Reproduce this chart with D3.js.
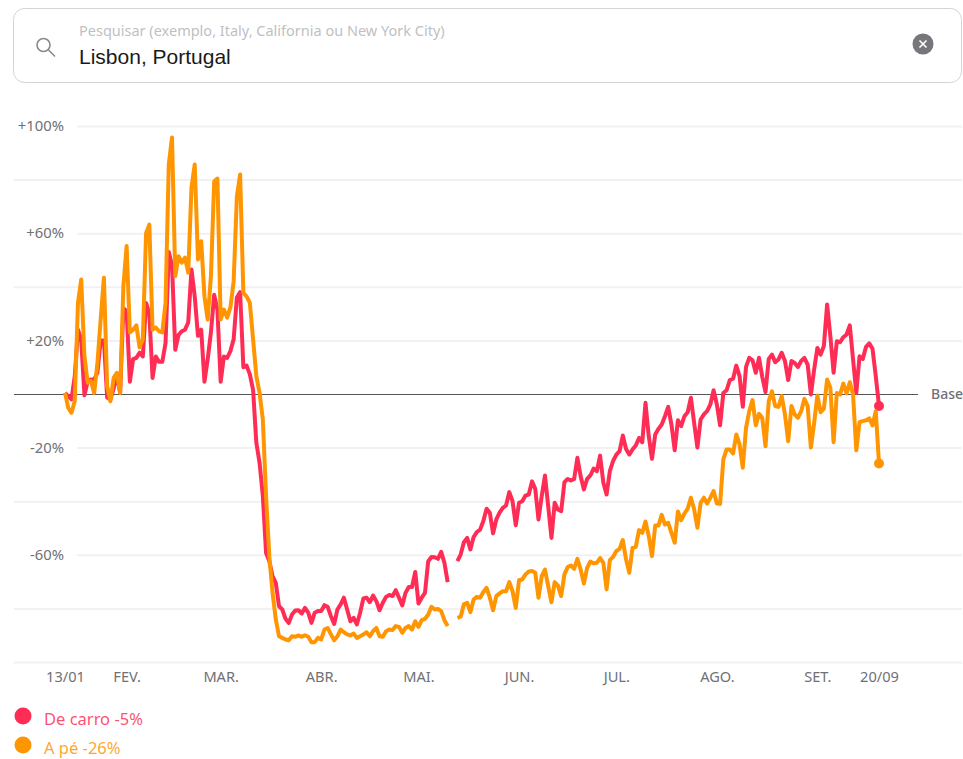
<!DOCTYPE html>
<html>
<head>
<meta charset="utf-8">
<script src="https://cdn.jsdelivr.net/npm/d3@7"></script>
<style>
  html, body { margin: 0; padding: 0; background: #fff; }
  svg { display: block; }
  text { font-family: "Noto Sans", "Open Sans", sans-serif; }
</style>
</head>
<body>
<svg width="963" height="759"></svg>
<script>
const searchHint = 'Pesquisar (exemplo, Italy, California ou New York City)';
const searchValue = 'Lisbon, Portugal';

const firstDay = new Date(2020, 0, 13);
const lastDay = new Date(2020, 8, 20);

const yTicks = [100, 80, 60, 40, 20, -20, -40, -60, -80, -100];
const yLabelled = [100, 60, 20, -20, -60];
const monthTicks = [
    ['13/01', new Date(2020, 0, 13)],
    ['FEV.', new Date(2020, 1, 1)],
    ['MAR.', new Date(2020, 2, 1)],
    ['ABR.', new Date(2020, 3, 1)],
    ['MAI.', new Date(2020, 4, 1)],
    ['JUN.', new Date(2020, 5, 1)],
    ['JUL.', new Date(2020, 6, 1)],
    ['AGO.', new Date(2020, 7, 1)],
    ['SET.', new Date(2020, 8, 1)],
    ['20/09', new Date(2020, 8, 20)]
];

// daily values, one line per month, 11 and 12 May are missing
const drivingValues = [
    0.4, -0.8, -2, 6.5, 24, 20, -0.5, 4.8, 5.4, 5.4, 8, 20, 20, -1.3, -2, 2, 7, 0.5, 32,
    31, 4.6, 13, 13.5, 15.4, 14, 34, 30, 6, 14, 12, 12, 19, 53, 48, 16.5, 22, 23.4, 24, 26.7, 46.5, 36.5, 21.7, 24, 4.6, 13, 23, 37, 31.5,
    4.6, 14, 13.5, 16, 20.4, 36, 38, 10, 10.6, 7.3, 1.5, -18.2, -25.7, -38, -59.3, -62.4, -68, -70.5, -79.2, -80.4, -83.9, -85.4, -82.3, -80.8, -80.7, -81.9, -79.8, -81.6, -85.4, -81.6, -81,
    -81, -78.8, -79.4, -82.9, -85.8, -80.4, -78.5, -76, -80.4, -84.8, -83.5, -86, -81.6, -76.3, -76, -77.7, -75.2, -77.3, -80.7, -77.9, -75.7, -75, -75.4, -73.2, -76, -78.9, -74.2, -72, -72, -66.4,
    -78.2, -76, -74.2, -62.4, -60.8, -60.9, -61.5, -58.9, -63, -70.2, null, null, -62.4, -59.9, -55.3, -53.7, -58, -53.4, -51.5, -50.6, -47.4, -42.8, -44.3, -52, -46.8, -44.3, -42.5, -41.6, -36.6, -40, -49,
    -40.6, -40, -37.9, -37.5, -32.6, -35.4, -46.8, -38.1, -30.4, -41.9, -53.7, -40.6, -43.1, -43.7, -32.9, -31.7, -32.3, -31.7, -23.8, -30.7, -35.6, -31.7, -30.4, -27.8, -28.8, -23, -33.1, -37.5, -28.8, -25,
    -22.6, -21.3, -15.5, -20.5, -22.6, -20.7, -19.2, -16.4, -18, -3.3, -15.7, -24.2, -15.1, -13, -11.4, -8.3, -4.8, -11.4, -21, -9.8, -12, -8.3, -6.8, -1.4, -10.8, -20, -9.5, -7.6, -6.4, -3.9, 1.4,
    -3.9, -11.7, 0.4, 1.4, 5.2, 5.7, 10.6, 6.7, -4.8, 10.1, 13.5, 12.6, 7.9, 13.5, 6.4, 0.7, 13.1, 14.7, 11.9, 12.9, 15.4, 12.3, 5.2, 12.3, 11.6, 10.1, 12.3, 13.5, 11, -0.2, 9.1,
    17.2, 14.7, 17.9, 33.4, 21.6, 7.9, 19.7, 19.3, 21.2, 22.2, 25.6, 12.9, 0.4, 14.1, 13.1, 17.6, 18.9, 16.9, 6.7, -4.5
];

const walkingValues = [
    0.4, -5.2, -7, -2.7, 34, 42.7, 14.1, 4.2, 4.8, 0.4, 11.6, 27.8, 43.4, 2.9, -2.7, 6, 7.9, 0.4, 40.2,
    55.2, 23, 24, 25.6, 17.4, 20.4, 60, 63.2, 24, 24.8, 23.4, 23, 34, 85.6, 95.7, 44, 51.4, 49, 50.9, 45.3, 77, 85.6, 50.2, 57, 36.4, 27.8, 44, 79.3, 80.4,
    27.8, 31.5, 28.5, 32.3, 42, 73.7, 81.9, 37.8, 36.4, 34, 20.4, 6.7, 0.4, -9.5, -38, -60.5, -74.2, -84.1, -90.4, -91, -91.6, -91.9, -90.4, -90.6, -90.1, -90.6, -90, -90.6, -92.6, -92.6, -91,
    -91.6, -87.9, -87.3, -89.7, -91.9, -90.4, -87.9, -88.9, -89.7, -90.1, -89.4, -91, -90.4, -89.7, -88.9, -90.4, -88.5, -87.3, -90.4, -90.6, -88.5, -87.9, -88.1, -86.6, -86.9, -89.1, -87.3, -86.6, -87.9, -84.8,
    -86.9, -84.4, -83.9, -82.3, -79.4, -80.4, -80.2, -81, -84.4, -86.6, null, null, -83.5, -83.1, -78.5, -77.9, -81.4, -76.7, -75.7, -76, -73.9, -72.3, -76, -80.7, -75.4, -74.4, -73.6, -73.6, -70.2, -73.6, -79.8,
    -69.5, -69.2, -67.3, -66.2, -66, -66.7, -76, -68, -65.5, -71.7, -77.7, -70.2, -71.5, -75.4, -67.3, -64.6, -64, -65.2, -61.5, -65.5, -70.7, -64.9, -62.5, -63.2, -63, -61.2, -63, -72.9, -62, -60.8,
    -58.6, -57.8, -54.5, -61.7, -66.7, -57.4, -57, -50.8, -51.8, -47.6, -53, -60.5, -49.1, -49.1, -45.1, -48.7, -48.1, -51.8, -55.5, -43.8, -47.1, -44.6, -42.8, -38.7, -43, -49.9, -40.6, -38.7, -40.9, -38.7, -36.2,
    -40.9, -41, -24.4, -20.7, -20.7, -22.2, -15.1, -18.8, -27.5, -12.6, -6.4, -2.3, -11.7, -7.4, -8.9, -19.5, -2.7, 1, -4.5, -4.8, -0.8, -7.6, -17.6, -4.5, -7.6, -8.9, -6.4, -1.8, -4.5, -20, -10.8,
    -0.6, -6.8, -5.5, 5.4, 2.3, -18, 0.4, -0.2, 3.9, 0.2, 4.4, -0.2, -21, -10.5, -10.1, -9.8, -9.1, -11.7, -6.4, -25.9
];

const seriesNames = ['De carro -5%', 'A pé -26%'];
const seriesColors = ['#ff2d55', '#ff9500'];

const days = d3.timeDay.range(firstDay, d3.timeDay.offset(lastDay, 1));
if (days.length !== drivingValues.length || days.length !== walkingValues.length) {
    console.error('data length mismatch', days.length, drivingValues.length, walkingValues.length);
}

const svg = d3.select('svg');

// search box
const search = svg.append('g');
search.append('rect')
    .attr('x', 13.5).attr('y', 8.5)
    .attr('width', 948).attr('height', 74)
    .attr('rx', 11)
    .attr('fill', '#fff')
    .attr('stroke', '#d4d4d4');
search.append('circle')
    .attr('cx', 43.5).attr('cy', 45).attr('r', 6.5)
    .attr('fill', 'none').attr('stroke', '#8a8a8a').attr('stroke-width', 1.6);
search.append('line')
    .attr('x1', 48.5).attr('y1', 50).attr('x2', 55).attr('y2', 56.5)
    .attr('stroke', '#8a8a8a').attr('stroke-width', 1.6);
search.append('text')
    .attr('x', 79).attr('y', 36)
    .attr('font-size', 14.5).attr('fill', '#bfbfc3')
    .text(searchHint);
search.append('text')
    .attr('x', 79).attr('y', 64)
    .attr('font-size', 21).attr('fill', '#1a1a1a')
    .style('font-family', '"Liberation Sans", sans-serif')
    .text(searchValue);
search.append('circle')
    .attr('cx', 923).attr('cy', 44).attr('r', 10.5)
    .attr('fill', '#77777b');
search.append('path')
    .attr('d', 'M919.5,40.5L926.5,47.5M926.5,40.5L919.5,47.5')
    .attr('stroke', '#fff').attr('stroke-width', 1.6);

const x = d3.scaleTime()
    .domain([firstDay, lastDay])
    .range([65, 879]);

const y = d3.scaleLinear()
    .domain([-100, 100])
    .range([662, 126]);

// grid and y labels
const yAxis = svg.append('g')
    .attr('transform', 'translate(77,0)')
    .call(d3.axisRight(y)
        .tickValues(yTicks)
        .tickSize(885)
        .tickFormat(d => yLabelled.includes(d) ? (d > 0 ? '+' : '') + d + '%' : ''));
yAxis.select('.domain').remove();
yAxis.selectAll('.tick line')
    .attr('x1', d => yLabelled.includes(d) ? 0 : -63)
    .attr('stroke', '#f1f1f2')
    .attr('stroke-width', 2);
yAxis.selectAll('.tick text')
    .attr('x', -13)
    .attr('dy', '0.32em')
    .attr('text-anchor', 'end')
    .attr('font-size', 14.8)
    .attr('fill', '#707075');

// x labels
const xAxis = svg.append('g')
    .attr('transform', 'translate(0,662)')
    .call(d3.axisBottom(x)
        .tickValues(monthTicks.map(d => d[1]))
        .tickSize(0)
        .tickFormat((d, i) => monthTicks[i][0]));
xAxis.select('.domain').remove();
xAxis.selectAll('.tick text')
    .attr('y', 15)
    .attr('dy', '0.32em')
    .attr('font-size', 14.6)
    .attr('fill', '#707075');

// baseline
svg.append('line')
    .attr('x1', 14).attr('x2', 918)
    .attr('y1', y(0) + 0.5).attr('y2', y(0) + 0.5)
    .attr('stroke', '#55555a')
    .attr('stroke-width', 1);
svg.append('text')
    .attr('x', 931).attr('y', y(0) + 1)
    .attr('dy', '0.32em')
    .attr('font-size', 14).attr('font-weight', 500)
    .attr('fill', '#707075')
    .text('Base');

const line = d3.line()
    .defined(d => d !== null)
    .x((d, i) => x(days[i]))
    .y(d => y(d));

[drivingValues, walkingValues].forEach((values, s) => {
    svg.append('path')
        .datum(values)
        .attr('fill', 'none')
        .attr('stroke', seriesColors[s])
        .attr('stroke-width', 4)
        .attr('stroke-linejoin', 'round')
        .attr('d', line);
    svg.append('circle')
        .attr('cx', x(lastDay))
        .attr('cy', y(values[values.length - 1]))
        .attr('r', 5)
        .attr('fill', seriesColors[s]);
});

// legend, the last row sits right at the bottom edge
seriesNames.forEach((name, i) => {
    const item = svg.append('g')
        .attr('transform', `translate(0, ${716 + i * 29})`);
    item.append('circle')
        .attr('cx', 23).attr('cy', 0).attr('r', 8.5)
        .attr('fill', seriesColors[i]);
    item.append('text')
        .attr('x', 44).attr('y', 9)
        .attr('font-size', 16.5)
        .attr('fill', seriesColors[i])
        .attr('fill-opacity', 0.85)
        .text(name);
});
</script>
</body>
</html>
